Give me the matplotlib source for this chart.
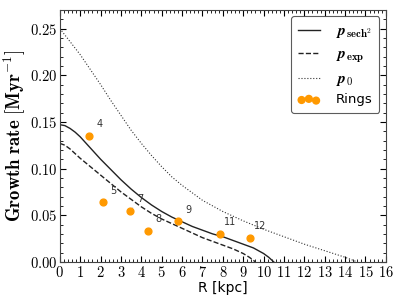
import numpy as np
import matplotlib
matplotlib.use("Agg")
import matplotlib.pyplot as plt
from matplotlib.ticker import FuncFormatter, MultipleLocator

plt.rcParams['mathtext.fontset'] = 'cm'
plt.rcParams['xtick.direction'] = 'in'
plt.rcParams['ytick.direction'] = 'in'

# growth rate curves
R_sech = [0, 0.25, 0.5, 0.75, 1.0, 1.5, 2.0, 2.5, 3.0, 3.5, 4.0, 4.5, 5.0, 5.5, 6.0,
          6.5, 7.0, 7.5, 8.0, 8.5, 9.0, 9.5, 10.0, 10.25, 10.5]
p_sech = [0.147, 0.146, 0.143, 0.139, 0.134, 0.122, 0.110, 0.099, 0.088, 0.078, 0.069,
          0.061, 0.054, 0.048, 0.043, 0.038, 0.034, 0.030, 0.027, 0.023, 0.019, 0.015,
          0.009, 0.005, 0.0]

R_exp = [0, 0.25, 0.5, 1.0, 1.5, 2.0, 2.5, 3.0, 3.5, 4.0, 4.5, 5.0, 5.5, 6.0, 6.5,
         7.0, 7.5, 8.0, 8.5, 9.0, 9.3, 9.6]
p_exp = [0.127, 0.125, 0.121, 0.111, 0.102, 0.093, 0.084, 0.075, 0.067, 0.059, 0.052,
         0.046, 0.041, 0.036, 0.031, 0.026, 0.022, 0.018, 0.014, 0.009, 0.005, 0.0]

R_0 = [0, 0.5, 1.0, 1.5, 2.0, 2.5, 3.0, 3.5, 4.0, 4.5, 5.0, 5.5, 6.0, 7.0, 8.0, 9.0,
       10.0, 11.0, 12.0, 13.0, 14.0, 14.6]
p_0 = [0.250, 0.236, 0.222, 0.206, 0.190, 0.173, 0.157, 0.141, 0.127, 0.114, 0.102,
       0.091, 0.082, 0.066, 0.054, 0.044, 0.035, 0.027, 0.019, 0.012, 0.005, 0.0]

# rings
ring_R = [1.42, 2.12, 3.45, 4.31, 5.78, 7.84, 9.31]
ring_g = [0.1346, 0.0638, 0.0548, 0.0328, 0.0434, 0.0299, 0.0253]
ring_id = ['4', '5', '7', '8', '9', '11', '12']

fig = plt.figure(figsize=(3.99, 2.99), dpi=100)
ax = fig.add_axes([0.150, 0.124, 0.817, 0.843])

ax.plot(R_sech, p_sech, '-', color='#222222', lw=1.0, label=r'$\mathbfit{p}_{\mathbf{sech^2}}$')
ax.plot(R_exp, p_exp, '--', color='#222222', lw=1.0, label=r'$\mathbfit{p}_{\mathbf{exp}}$')
ax.plot(R_0, p_0, ':', color='#333333', lw=0.8, label=r'$\mathbfit{p}_{\mathbf{0}}$')
ax.scatter(ring_R, ring_g, s=24, color='#ff9900', edgecolors='#ff9900', zorder=5, label='Rings')

for r, g, t in zip(ring_R, ring_g, ring_id):
    ax.annotate(t, (r, g), xytext=(7.5, 8.5), textcoords='offset points',
                ha='center', va='center', fontsize=7, color='#333333',
                arrowprops=dict(arrowstyle='-', color='#b8c4c4', lw=0.6,
                                shrinkA=2, shrinkB=3.5))

ax.set_xlim(0, 16)
ax.set_ylim(0, 0.27)
ax.xaxis.set_major_locator(MultipleLocator(1))
ax.xaxis.set_minor_locator(MultipleLocator(0.2))
ax.yaxis.set_major_locator(MultipleLocator(0.05))
ax.yaxis.set_minor_locator(MultipleLocator(0.01))
ax.tick_params(which='both', top=True, right=True)
ax.tick_params(which='major', length=4, width=0.8, labelsize=10.5, pad=2)
ax.tick_params(which='minor', length=2, width=0.6)
ax.xaxis.set_major_formatter(FuncFormatter(lambda v, p: r'$\mathbf{%d}$' % round(v)))
ax.yaxis.set_major_formatter(FuncFormatter(lambda v, p: r'$\mathbf{%.2f}$' % v))
for s in ax.spines.values():
    s.set_color('#444444')

ax.set_xlabel('R [kpc]', fontsize=10, labelpad=1)
ax.set_ylabel(r'$\mathbf{Growth\ rate\ [Myr^{-1}]}$', fontsize=13.5, labelpad=2)

leg = ax.legend(loc='upper right', fontsize=9.5, scatterpoints=3, frameon=True,
                fancybox=True, edgecolor='#333333', handlelength=1.7,
                borderpad=0.5, labelspacing=0.45, handletextpad=1.2)
leg.get_frame().set_linewidth(0.8)
for t in leg.get_texts()[:3]:
    t.set_fontsize(11)

fig.savefig('out.png', dpi=100)
